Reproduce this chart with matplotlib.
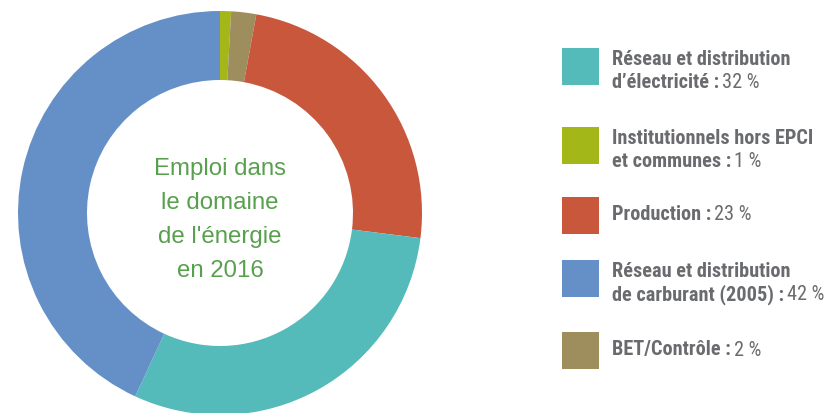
import matplotlib
matplotlib.use("Agg")
import os
import matplotlib.pyplot as plt
from matplotlib import font_manager
from matplotlib.font_manager import FontProperties
from matplotlib.patches import Rectangle

# ---- data (slice sizes, clockwise from top) ----
slice_names = ["Institutionnels", "BET/Contrôle", "Production", "Réseau électricité", "Réseau carburant"]
slice_values = [0.88, 2.0, 24.1, 29.9, 43.1]
slice_colors = ["#A3B719", "#9E8E5E", "#C8573C", "#55BABA", "#6590C7"]

# legend entries (order as in reference)
legend_bold = ["Réseau et distribution\nd’électricité :",
               "Institutionnels hors EPCI\net communes :",
               "Production :",
               "Réseau et distribution\nde carburant (2005) :",
               "BET/Contrôle :"]
legend_pct = ["32 %", "1 %", "23 %", "42 %", "2 %"]
legend_colors = ["#55BABA", "#A3B719", "#C8573C", "#6590C7", "#9E8E5E"]

center_lines = ["Emploi dans", "le domaine", "de l'énergie", "en 2016"]

W, H = 830, 413
fig = plt.figure(figsize=(W / 100, H / 100), dpi=100)
fig.patch.set_facecolor("white")

files = [f.fname for f in font_manager.fontManager.ttflist]


def find_font(keys_list):
    for keys in keys_list:
        for fn in files:
            b = os.path.basename(fn).lower().replace(" ", "").replace("_", "").replace("-", "")
            if all(k in b for k in keys):
                return fn
    return None


LS = 14.6
bold_fn = find_font([("robotocondensed", "bold"), ("opensanscondensed", "bold"),
                     ("liberationsansnarrow", "bold"), ("dejavusanscondensed", "bold")])
reg_fn = find_font([("robotocondensed", "regular"), ("opensanscondensed", "regular"),
                    ("liberationsansnarrow", "regular"), ("dejavusanscondensed.ttf",)])
fp_bold = FontProperties(fname=bold_fn, size=LS) if bold_fn else FontProperties(family="DejaVu Sans", weight="bold", size=LS)
fp_reg = FontProperties(fname=reg_fn, size=LS) if reg_fn else FontProperties(family="DejaVu Sans", size=LS)

# donut axes: center (220, 213) px, outer radius 202 px
cx, cy, R = 220, 213, 202
ax = fig.add_axes([(cx - R) / W, (H - cy - R) / H, 2 * R / W, 2 * R / H])
ax.pie(slice_values, colors=slice_colors, startangle=90, counterclock=False,
       radius=1.0, wedgeprops=dict(width=1 - 133 / 202, edgecolor="none", linewidth=0))
ax.set_xlim(-1, 1)
ax.set_ylim(-1, 1)
ax.set_aspect("equal")
ax.axis("off")

# center text
green = "#58A04E"
baselines = [175, 209, 243, 277]
for line, b in zip(center_lines, baselines):
    fig.text(cx / W, 1 - b / H, line, ha="center", va="baseline",
             fontsize=17.3, color=green, family="Liberation Sans")

# legend
gray = "#6A6B6E"
sq_tops = [48, 127, 197, 260, 332]
sq = 37
sq_x = 562
tx = 612
fig.canvas.draw()
renderer = fig.canvas.get_renderer()
for bold, pct, col, top in zip(legend_bold, legend_pct, legend_colors, sq_tops):
    fig.patches.append(Rectangle((sq_x / W, 1 - (top + sq) / H), sq / W, sq / H,
                                 transform=fig.transFigure, facecolor=col,
                                 edgecolor="none", figure=fig))
    c = top + sq / 2
    lines = bold.split("\n")
    bls = [c - 1.5, c + 21.5] if len(lines) == 2 else [c + 5]
    for i, (ln, b) in enumerate(zip(lines, bls)):
        t = fig.text(tx / W, 1 - b / H, ln, ha="left", va="baseline",
                     fontproperties=fp_bold, color=gray)
        if i == len(lines) - 1:
            bb = t.get_window_extent(renderer)
            fig.text((bb.x1 + 3) / W, 1 - b / H, pct, ha="left", va="baseline",
                     fontproperties=fp_reg, color=gray)

fig.savefig("out.png", dpi=100, facecolor="white")
